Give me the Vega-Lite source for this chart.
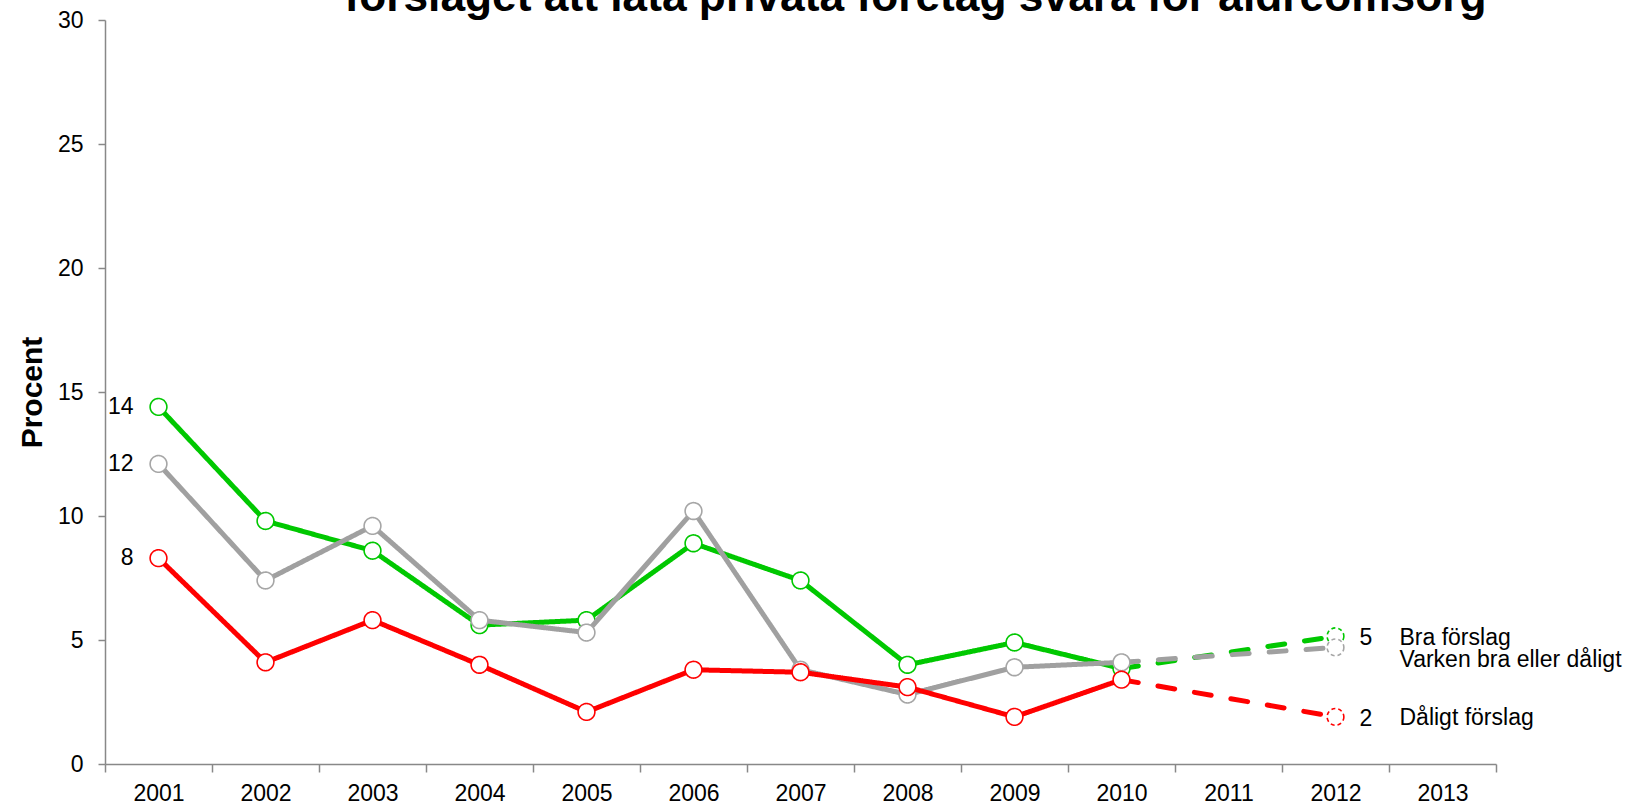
{
  "$schema": "https://vega.github.io/schema/vega-lite/v6.json",
  "width": 1391,
  "height": 744,
  "autosize": {"type": "none"},
  "padding": {"left": 105, "top": 20, "right": 132, "bottom": 42},
  "background": "white",
  "config": {"font": "Liberation Sans", "view": {"stroke": null}},
  "title": {
    "text": "förslaget att låta privata företag svara för äldreomsorg",
    "fontSize": 44.3,
    "fontWeight": "bold",
    "font": "Liberation Sans",
    "color": "#000000",
    "anchor": "middle",
    "frame": "group",
    "baseline": "alphabetic",
    "offset": 0,
    "dy": 46,
    "dx": 115
  },
  "data": {
    "values": [
      {"series": "Bra förslag", "part": "obs", "year": 2001, "value": 14.4},
      {"series": "Bra förslag", "part": "obs", "year": 2002, "value": 9.8},
      {"series": "Bra förslag", "part": "obs", "year": 2003, "value": 8.6},
      {"series": "Bra förslag", "part": "obs", "year": 2004, "value": 5.6},
      {"series": "Bra förslag", "part": "obs", "year": 2005, "value": 5.8},
      {"series": "Bra förslag", "part": "obs", "year": 2006, "value": 8.9},
      {"series": "Bra förslag", "part": "obs", "year": 2007, "value": 7.4},
      {"series": "Bra förslag", "part": "obs", "year": 2008, "value": 4.0},
      {"series": "Bra förslag", "part": "obs", "year": 2009, "value": 4.9},
      {"series": "Bra förslag", "part": "obs", "year": 2010, "value": 3.85},
      {"series": "Bra förslag", "part": "proj", "year": 2010, "value": 3.85},
      {"series": "Bra förslag", "part": "proj", "year": 2012, "value": 5.15},
      {"series": "Varken bra eller dåligt", "part": "obs", "year": 2001, "value": 12.1},
      {"series": "Varken bra eller dåligt", "part": "obs", "year": 2002, "value": 7.4},
      {"series": "Varken bra eller dåligt", "part": "obs", "year": 2003, "value": 9.6},
      {"series": "Varken bra eller dåligt", "part": "obs", "year": 2004, "value": 5.8},
      {"series": "Varken bra eller dåligt", "part": "obs", "year": 2005, "value": 5.3},
      {"series": "Varken bra eller dåligt", "part": "obs", "year": 2006, "value": 10.2},
      {"series": "Varken bra eller dåligt", "part": "obs", "year": 2007, "value": 3.8},
      {"series": "Varken bra eller dåligt", "part": "obs", "year": 2008, "value": 2.8},
      {"series": "Varken bra eller dåligt", "part": "obs", "year": 2009, "value": 3.9},
      {"series": "Varken bra eller dåligt", "part": "obs", "year": 2010, "value": 4.1},
      {"series": "Varken bra eller dåligt", "part": "proj", "year": 2010, "value": 4.1},
      {"series": "Varken bra eller dåligt", "part": "proj", "year": 2012, "value": 4.7},
      {"series": "Dåligt förslag", "part": "obs", "year": 2001, "value": 8.3},
      {"series": "Dåligt förslag", "part": "obs", "year": 2002, "value": 4.1},
      {"series": "Dåligt förslag", "part": "obs", "year": 2003, "value": 5.8},
      {"series": "Dåligt förslag", "part": "obs", "year": 2004, "value": 4.0},
      {"series": "Dåligt förslag", "part": "obs", "year": 2005, "value": 2.1},
      {"series": "Dåligt förslag", "part": "obs", "year": 2006, "value": 3.8},
      {"series": "Dåligt förslag", "part": "obs", "year": 2007, "value": 3.7},
      {"series": "Dåligt förslag", "part": "obs", "year": 2008, "value": 3.1},
      {"series": "Dåligt förslag", "part": "obs", "year": 2009, "value": 1.9},
      {"series": "Dåligt förslag", "part": "obs", "year": 2010, "value": 3.4},
      {"series": "Dåligt förslag", "part": "proj", "year": 2010, "value": 3.4},
      {"series": "Dåligt förslag", "part": "proj", "year": 2012, "value": 1.9}
    ]
  },
  "encoding": {
    "x": {
      "field": "year",
      "type": "ordinal",
      "scale": {"domain": [2001, 2002, 2003, 2004, 2005, 2006, 2007, 2008, 2009, 2010, 2011, 2012, 2013], "paddingInner": 0, "paddingOuter": 0},
      "axis": {
        "title": null,
        "labelAngle": 0,
        "labelFontSize": 23,
        "labelColor": "#000000",
        "labelPadding": 10,
        "tickBand": "extent",
        "tickSize": 8,
        "tickColor": "#888888",
        "tickWidth": 1.5,
        "domainColor": "#888888",
        "domainWidth": 1.5,
        "grid": false
      }
    },
    "y": {
      "field": "value",
      "type": "quantitative",
      "scale": {"domain": [0, 30], "nice": false, "zero": true},
      "axis": {
        "title": "Procent",
        "titleFontSize": 30,
        "titleFontWeight": "bold",
        "titleColor": "#000000",
        "titlePadding": 10,
        "values": [0, 5, 10, 15, 20, 25, 30],
        "labelFontSize": 23,
        "labelColor": "#000000",
        "labelPadding": 15,
        "tickSize": 7,
        "tickColor": "#888888",
        "tickWidth": 1.5,
        "domainColor": "#888888",
        "domainWidth": 1.5,
        "grid": false
      }
    }
  },
  "layer": [
    {
      "transform": [{"filter": "datum.series === 'Bra förslag'"}],
      "layer": [
        {
          "mark": {"type": "line", "strokeWidth": 5, "strokeCap": "round"},
          "encoding": {
            "color": {"field": "series", "type": "nominal", "scale": {"domain": ["Bra förslag", "Varken bra eller dåligt", "Dåligt förslag"], "range": ["#00C800", "#A0A0A0", "#FF0000"]}, "legend": null},
            "strokeDash": {"field": "part", "type": "nominal", "scale": {"domain": ["obs", "proj"], "range": [[1, 0], [17, 20]]}, "legend": null}
          }
        },
        {
          "transform": [{"filter": "!(datum.part === 'proj' && datum.year === 2010)"}],
          "mark": {"type": "point", "shape": "circle", "fill": "white", "opacity": 1, "fillOpacity": 1, "size": 280, "strokeWidth": 1.6},
          "encoding": {
            "stroke": {"field": "series", "type": "nominal", "scale": {"domain": ["Bra förslag", "Varken bra eller dåligt", "Dåligt förslag"], "range": ["#00C800", "#A6A6A6", "#FF0000"]}, "legend": null},
            "strokeDash": {"condition": {"test": "datum.part === 'proj'", "value": [4, 3]}, "value": [1, 0]}
          }
        }
      ]
    },
    {
      "transform": [{"filter": "datum.series === 'Varken bra eller dåligt'"}],
      "layer": [
        {
          "mark": {"type": "line", "strokeWidth": 5, "strokeCap": "round"},
          "encoding": {
            "color": {"field": "series", "type": "nominal", "scale": {"domain": ["Bra förslag", "Varken bra eller dåligt", "Dåligt förslag"], "range": ["#00C800", "#A0A0A0", "#FF0000"]}, "legend": null},
            "strokeDash": {"field": "part", "type": "nominal", "scale": {"domain": ["obs", "proj"], "range": [[1, 0], [17, 20]]}, "legend": null}
          }
        },
        {
          "transform": [{"filter": "!(datum.part === 'proj' && datum.year === 2010)"}],
          "mark": {"type": "point", "shape": "circle", "fill": "white", "opacity": 1, "fillOpacity": 1, "size": 280, "strokeWidth": 1.6},
          "encoding": {
            "stroke": {"field": "series", "type": "nominal", "scale": {"domain": ["Bra förslag", "Varken bra eller dåligt", "Dåligt förslag"], "range": ["#00C800", "#A6A6A6", "#FF0000"]}, "legend": null},
            "strokeDash": {"condition": {"test": "datum.part === 'proj'", "value": [4, 3]}, "value": [1, 0]}
          }
        }
      ]
    },
    {
      "transform": [{"filter": "datum.series === 'Dåligt förslag'"}],
      "layer": [
        {
          "mark": {"type": "line", "strokeWidth": 5, "strokeCap": "round"},
          "encoding": {
            "color": {"field": "series", "type": "nominal", "scale": {"domain": ["Bra förslag", "Varken bra eller dåligt", "Dåligt förslag"], "range": ["#00C800", "#A0A0A0", "#FF0000"]}, "legend": null},
            "strokeDash": {"field": "part", "type": "nominal", "scale": {"domain": ["obs", "proj"], "range": [[1, 0], [17, 20]]}, "legend": null}
          }
        },
        {
          "transform": [{"filter": "!(datum.part === 'proj' && datum.year === 2010)"}],
          "mark": {"type": "point", "shape": "circle", "fill": "white", "opacity": 1, "fillOpacity": 1, "size": 280, "strokeWidth": 1.6},
          "encoding": {
            "stroke": {"field": "series", "type": "nominal", "scale": {"domain": ["Bra förslag", "Varken bra eller dåligt", "Dåligt förslag"], "range": ["#00C800", "#A6A6A6", "#FF0000"]}, "legend": null},
            "strokeDash": {"condition": {"test": "datum.part === 'proj'", "value": [4, 3]}, "value": [1, 0]}
          }
        }
      ]
    },
    {
      "transform": [{"filter": "datum.part === 'obs' && datum.year === 2001"}],
      "mark": {"type": "text", "align": "right", "baseline": "middle", "dx": -25, "fontSize": 23, "color": "#000000"},
      "encoding": {"text": {"field": "value", "type": "quantitative", "format": ".0f"}}
    },
    {
      "transform": [{"filter": "datum.part === 'proj' && datum.year === 2012 && datum.series !== 'Varken bra eller dåligt'"}],
      "mark": {"type": "text", "align": "left", "baseline": "middle", "dx": 24, "dy": 2, "fontSize": 23, "color": "#000000"},
      "encoding": {"text": {"field": "value", "type": "quantitative", "format": ".0f"}}
    },
    {
      "transform": [{"filter": "datum.part === 'proj' && datum.year === 2012 && datum.series === 'Bra förslag'"}],
      "mark": {"type": "text", "align": "left", "baseline": "middle", "dx": 64, "dy": 2, "fontSize": 23, "color": "#000000"},
      "encoding": {"text": {"field": "series", "type": "nominal"}}
    },
    {
      "transform": [{"filter": "datum.part === 'proj' && datum.year === 2012 && datum.series === 'Varken bra eller dåligt'"}],
      "mark": {"type": "text", "align": "left", "baseline": "middle", "dx": 64, "dy": 13, "fontSize": 23, "color": "#000000"},
      "encoding": {"text": {"field": "series", "type": "nominal"}}
    },
    {
      "transform": [{"filter": "datum.part === 'proj' && datum.year === 2012 && datum.series === 'Dåligt förslag'"}],
      "mark": {"type": "text", "align": "left", "baseline": "middle", "dx": 64, "dy": 1, "fontSize": 23, "color": "#000000"},
      "encoding": {"text": {"field": "series", "type": "nominal"}}
    }
  ]
}
